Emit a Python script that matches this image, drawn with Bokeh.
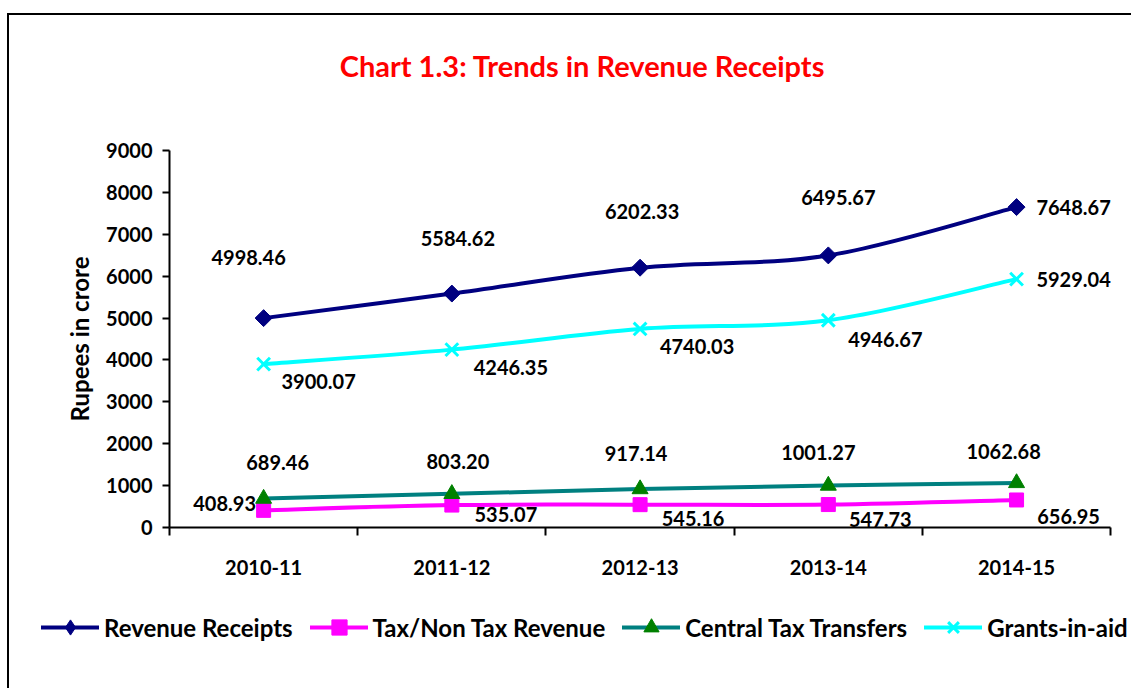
import numpy as np
from bokeh.plotting import figure
from bokeh.layouts import column
from bokeh.models import Range1d, FixedTicker, Legend, LegendItem, Label
from bokeh.core.properties import value
from bokeh.embed import file_html
from bokeh.resources import INLINE

# ---------------- data ----------------
years = ["2010-11", "2011-12", "2012-13", "2013-14", "2014-15"]
revenue_receipts = [4998.46, 5584.62, 6202.33, 6495.67, 7648.67]
tax_non_tax_revenue = [408.93, 535.07, 545.16, 547.73, 656.95]
central_tax_transfers = [689.46, 803.20, 917.14, 1001.27, 1062.68]
grants_in_aid = [3900.07, 4246.35, 4740.03, 4946.67, 5929.04]
y_ticks = [0, 1000, 2000, 3000, 4000, 5000, 6000, 7000, 8000, 9000]

# data-label placement (pixel offsets from each point)
rr_dx = [-15, 6, 2, 10, 57]
rr_dy = [-61, -55, -56, -58, 0]
gr_dx = [55, 59, 57, 57, 57]
gr_dy = [17, 18, 18, 19, 0]
ct_dx = [14, 6, -4, -10, -13]
ct_dy = [-36, -32, -36, -33, -31]
tx_dx = [-39, 54, 53, 52, 52]
tx_dy = [-7, 9, 14, 15, 17]

FONT = "Lato"
W = 1122
x = [i + 0.5 for i in range(len(years))]

# ---------------- title strip ----------------
pt = figure(width=W, height=100, x_range=Range1d(0, 1), y_range=Range1d(0, 1),
            x_axis_type=None, y_axis_type=None, output_backend="svg",
            toolbar_location=None, min_border=0)
pt.frame_align = False
pt.outline_line_color = None
pt.grid.visible = False
pt.add_layout(Label(x=0.5, y=0.5, x_offset=12, text="Chart 1.3: Trends in Revenue Receipts",
                    text_align="center", text_baseline="middle",
                    text_color="#FF0000", text_font=FONT, text_font_style="bold",
                    text_font_size="29px"))

# ---------------- main chart ----------------
p = figure(width=W, height=475,
           x_range=Range1d(0, len(years) + 0.1), y_range=Range1d(0, 9000),
           output_backend="svg", toolbar_location=None,
           min_border_left=160, min_border_right=2,
           min_border_top=35, min_border_bottom=63)
p.frame_align = False
p.outline_line_color = None
p.xgrid.visible = False
p.ygrid.visible = False


def bezier_parts(xs, ys):
    n = len(xs)
    out = dict(x0=[], y0=[], x1=[], y1=[], cx0=[], cy0=[], cx1=[], cy1=[])
    for i in range(n - 1):
        im = max(i - 1, 0)
        i2 = min(i + 2, n - 1)
        out["x0"].append(xs[i]); out["y0"].append(ys[i])
        out["x1"].append(xs[i + 1]); out["y1"].append(ys[i + 1])
        out["cx0"].append(xs[i] + (xs[i + 1] - xs[im]) / 6)
        out["cy0"].append(ys[i] + (ys[i + 1] - ys[im]) / 6)
        out["cx1"].append(xs[i + 1] - (xs[i2] - xs[i]) / 6)
        out["cy1"].append(ys[i + 1] - (ys[i2] - ys[i]) / 6)
    return out


# name, values, line colour, marker colour, marker, legend marker, size, angle, label offsets
series = [
    ("Revenue Receipts", revenue_receipts, "#000080", "#000080", "square", "diamond", 12, np.pi / 4, rr_dx, rr_dy),
    ("Tax/Non Tax Revenue", tax_non_tax_revenue, "#FF00FF", "#FF00FF", "square", "square", 14, 0, tx_dx, tx_dy),
    ("Central Tax Transfers", central_tax_transfers, "#008080", "#008000", "triangle", "triangle", 16, 0, ct_dx, ct_dy),
    ("Grants-in-aid", grants_in_aid, "#00FFFF", "#00FFFF", "x", "x", 18, 0, gr_dx, gr_dy),
]

# ---------------- legend strip ----------------
LH = 98
pl = figure(width=W, height=LH, x_range=Range1d(0, 1), y_range=Range1d(-2, -1),
            x_axis_type=None, y_axis_type=None, output_backend="svg",
            toolbar_location=None, min_border=0)
pl.frame_align = False
pl.outline_line_color = None
pl.grid.visible = False

items = []
for name, vals, lcol, mcol, marker, lmarker, msize, ang, dx, dy in series:
    p.bezier(**bezier_parts(x, vals), line_color=lcol, line_width=4, line_cap="round")
    if marker == "x":
        p.scatter(x, vals, marker=marker, size=msize, line_color=mcol, line_width=3)
        lm = pl.scatter(x, vals, marker=lmarker, line_color=mcol, line_width=3)
    else:
        p.scatter(x, vals, marker=marker, size=msize, angle=ang,
                  fill_color=mcol, line_color=mcol)
        lm = pl.scatter(x, vals, marker=lmarker, fill_color=mcol, line_color=mcol)
    # legend-strip renderers reuse the series data; the strip's ranges keep them out of view
    ll = pl.line(x, vals, line_color=lcol, line_width=4, line_cap="round")
    p.text(x=x, y=vals, text=[f"{v:.2f}" for v in vals], x_offset=dx, y_offset=dy,
           text_align="center", text_baseline="middle", text_color="black",
           text_font=value(FONT), text_font_style="bold", text_font_size="20px")
    items.append(LegendItem(label=name, renderers=[ll, lm]))

# axes
p.yaxis.ticker = FixedTicker(ticks=y_ticks)
p.yaxis.minor_tick_line_color = None
p.yaxis.major_tick_out = 7
p.yaxis.major_tick_in = 0
p.yaxis.major_label_standoff = 10
p.yaxis.axis_label = "Rupees in crore"
p.yaxis.axis_label_standoff = 9
p.yaxis.axis_label_text_font = FONT
p.yaxis.axis_label_text_font_style = "bold"
p.yaxis.axis_label_text_font_size = "24px"
p.yaxis.axis_label_text_color = "black"

p.xaxis.ticker = FixedTicker(ticks=x, minor_ticks=list(range(len(years) + 1)))
p.xaxis.major_label_overrides = {xi: yr for xi, yr in zip(x, years)}
p.xaxis.bounds = (0, len(years))
p.xaxis.major_tick_out = 0
p.xaxis.major_tick_in = 0
p.xaxis.minor_tick_out = 8
p.xaxis.minor_tick_in = 0
p.xaxis.minor_tick_line_width = 2
p.xaxis.minor_tick_line_color = "black"
p.xaxis.major_label_standoff = 24

for ax in (p.xaxis, p.yaxis):
    ax.axis_line_width = 2
    ax.axis_line_color = "black"
    ax.major_tick_line_width = 2
    ax.major_tick_line_color = "black"
    ax.major_label_text_font = FONT
    ax.major_label_text_font_style = "bold"
    ax.major_label_text_font_size = "20px"
    ax.major_label_text_color = "black"

legend = Legend(items=items, orientation="horizontal", location=(32, LH - 18 - 38),
                glyph_width=58, glyph_height=38, label_standoff=5, spacing=17,
                padding=0, margin=0, border_line_color=None,
                background_fill_alpha=0,
                label_text_font=FONT, label_text_font_style="bold",
                label_text_font_size="24px", label_text_color="black")
pl.add_layout(legend)

layout = column(pt, p, pl, spacing=0,
                styles={"border-left": "2px solid black", "border-top": "2px solid black",
                        "margin-top": "13px", "margin-left": "7px"})

open("out.html", "w").write(file_html(layout, INLINE))
